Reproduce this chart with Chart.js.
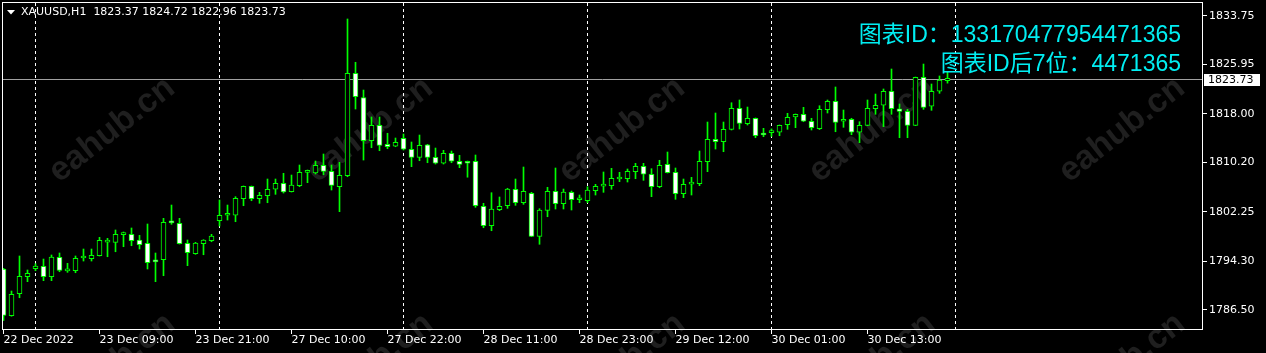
<!DOCTYPE html>
<html><head><meta charset="utf-8">
<script src="https://cdn.jsdelivr.net/npm/chart.js@4/dist/chart.umd.min.js"></script>
<style>html,body{margin:0;padding:0;background:#000;overflow:hidden}</style>
</head><body>
<canvas id="c" width="1266" height="353"></canvas>
<script>
const categories = [
 "22 Dec 20:00","22 Dec 21:00","22 Dec 22:00","22 Dec 23:00",
 "23 Dec 01:00","23 Dec 02:00","23 Dec 03:00","23 Dec 04:00","23 Dec 05:00","23 Dec 06:00","23 Dec 07:00","23 Dec 08:00","23 Dec 09:00","23 Dec 10:00","23 Dec 11:00","23 Dec 12:00","23 Dec 13:00","23 Dec 14:00","23 Dec 15:00","23 Dec 16:00","23 Dec 17:00","23 Dec 18:00","23 Dec 19:00","23 Dec 20:00","23 Dec 21:00","23 Dec 22:00","23 Dec 23:00",
 "27 Dec 01:00","27 Dec 02:00","27 Dec 03:00","27 Dec 04:00","27 Dec 05:00","27 Dec 06:00","27 Dec 07:00","27 Dec 08:00","27 Dec 09:00","27 Dec 10:00","27 Dec 11:00","27 Dec 12:00","27 Dec 13:00","27 Dec 14:00","27 Dec 15:00","27 Dec 16:00","27 Dec 17:00","27 Dec 18:00","27 Dec 19:00","27 Dec 20:00","27 Dec 21:00","27 Dec 22:00","27 Dec 23:00",
 "28 Dec 01:00","28 Dec 02:00","28 Dec 03:00","28 Dec 04:00","28 Dec 05:00","28 Dec 06:00","28 Dec 07:00","28 Dec 08:00","28 Dec 09:00","28 Dec 10:00","28 Dec 11:00","28 Dec 12:00","28 Dec 13:00","28 Dec 14:00","28 Dec 15:00","28 Dec 16:00","28 Dec 17:00","28 Dec 18:00","28 Dec 19:00","28 Dec 20:00","28 Dec 21:00","28 Dec 22:00","28 Dec 23:00",
 "29 Dec 01:00","29 Dec 02:00","29 Dec 03:00","29 Dec 04:00","29 Dec 05:00","29 Dec 06:00","29 Dec 07:00","29 Dec 08:00","29 Dec 09:00","29 Dec 10:00","29 Dec 11:00","29 Dec 12:00","29 Dec 13:00","29 Dec 14:00","29 Dec 15:00","29 Dec 16:00","29 Dec 17:00","29 Dec 18:00","29 Dec 19:00","29 Dec 20:00","29 Dec 21:00","29 Dec 22:00","29 Dec 23:00",
 "30 Dec 01:00","30 Dec 02:00","30 Dec 03:00","30 Dec 04:00","30 Dec 05:00","30 Dec 06:00","30 Dec 07:00","30 Dec 08:00","30 Dec 09:00","30 Dec 10:00","30 Dec 11:00","30 Dec 12:00","30 Dec 13:00","30 Dec 14:00","30 Dec 15:00","30 Dec 16:00","30 Dec 17:00","30 Dec 18:00","30 Dec 19:00","30 Dec 20:00","30 Dec 21:00","30 Dec 22:00","30 Dec 23:00"
];
const opens = [
 1793.09,1785.58,1789.12,1791.85,
 1793.13,1793.52,1791.85,1794.97,1792.80,1792.81,1794.85,1794.74,1795.22,1797.42,1797.38,1798.62,1798.66,1797.75,1797.22,1794.30,1794.58,1800.56,1800.43,1797.22,1795.55,1797.15,1797.63,
 1800.85,1801.72,1801.72,1804.39,1806.38,1804.39,1804.87,1805.90,1806.86,1805.51,1806.48,1808.62,1808.52,1809.75,1808.79,1806.31,1808.08,1824.54,1820.62,1813.71,1816.18,1813.13,1812.81,
 1814.09,1812.33,1811.04,1813.06,1811.04,1810.08,1811.68,1810.40,1810.40,1810.40,1803.16,1800.05,1802.62,1803.26,1805.90,1803.74,1805.25,1798.34,1802.52,1805.57,1803.58,1805.41,1804.22,
 1804.06,1805.67,1806.40,1806.48,1807.56,1807.60,1808.73,1809.59,1808.31,1806.31,1809.91,1808.63,1805.19,1806.72,1806.80,1810.33,1813.93,1813.55,1815.54,1818.91,1816.44,1817.31,1814.68,
 1815.00,1815.06,1816.28,1817.52,1817.95,1816.83,1815.64,1818.69,1820.04,1816.83,1817.15,1815.06,1816.18,1818.85,1819.40,1821.65,1818.85,1818.43,1816.18,1823.90,1819.24,1821.65,1823.37
];
const highs = [
 1793.20,1789.55,1795.18,1792.93,
 1793.94,1794.69,1795.34,1795.66,1794.00,1795.18,1796.30,1796.30,1798.18,1798.02,1799.36,1799.03,1799.68,1798.50,1800.32,1795.66,1801.23,1803.37,1801.23,1797.75,1797.38,1797.80,1798.66,
 1804.18,1803.37,1804.71,1806.43,1806.43,1805.41,1807.55,1807.55,1808.47,1808.19,1809.80,1809.00,1810.44,1811.57,1809.80,1810.24,1833.27,1826.31,1821.85,1817.52,1817.52,1814.90,1814.14,
 1814.78,1813.50,1814.62,1813.13,1812.53,1812.16,1812.05,1811.36,1810.44,1811.41,1803.65,1805.35,1804.66,1806.06,1807.55,1809.48,1805.41,1802.78,1806.22,1809.32,1805.94,1805.62,1804.98,
 1806.31,1806.70,1808.68,1809.27,1808.63,1809.16,1810.07,1810.07,1809.21,1810.56,1811.89,1809.32,1807.55,1807.82,1812.05,1816.71,1818.16,1816.71,1819.81,1820.25,1819.12,1817.36,1815.70,
 1815.60,1816.23,1818.11,1818.00,1819.07,1817.31,1819.33,1820.25,1822.34,1818.64,1817.31,1816.76,1820.25,1821.21,1822.02,1825.23,1819.61,1818.75,1823.94,1826.03,1822.82,1824.11,1824.72
];
const lows = [
 1784.81,1785.50,1788.47,1791.05,
 1792.81,1791.21,1791.21,1792.65,1792.55,1792.49,1794.37,1794.37,1795.18,1795.06,1795.86,1796.67,1796.83,1796.30,1793.09,1791.05,1792.01,1800.27,1797.10,1793.62,1795.45,1795.38,1797.47,
 1799.99,1800.96,1800.69,1803.26,1804.06,1803.65,1803.74,1805.09,1805.30,1805.46,1806.31,1806.96,1808.36,1808.24,1805.78,1802.30,1807.92,1818.80,1810.60,1812.58,1812.10,1812.42,1812.74,
 1812.21,1809.53,1810.49,1810.17,1809.96,1809.96,1810.17,1809.37,1807.84,1803.00,1799.72,1799.24,1802.46,1802.84,1803.32,1803.48,1798.28,1797.06,1801.49,1802.73,1802.73,1802.57,1803.74,
 1803.74,1804.98,1805.41,1805.90,1807.12,1807.07,1807.60,1807.34,1804.71,1806.15,1808.52,1804.29,1804.55,1804.98,1806.48,1808.73,1812.37,1811.94,1815.43,1815.59,1816.23,1814.19,1814.35,
 1814.40,1814.51,1815.54,1815.80,1816.76,1815.43,1815.50,1818.16,1815.15,1815.86,1814.67,1813.39,1816.12,1817.95,1815.96,1817.95,1814.19,1814.19,1816.12,1818.75,1818.59,1821.32,1822.96
];
const closes = [
 1785.61,1789.02,1791.91,1792.40,
 1793.57,1791.85,1795.01,1792.88,1792.90,1794.81,1794.95,1795.29,1797.70,1797.50,1798.66,1798.70,1797.63,1796.99,1794.10,1794.24,1800.59,1800.50,1797.15,1795.71,1797.27,1797.75,1798.39,
 1801.72,1801.80,1804.45,1806.38,1804.39,1804.93,1805.90,1806.86,1805.46,1806.59,1808.63,1808.70,1809.75,1808.79,1806.54,1808.14,1824.54,1820.78,1813.71,1816.18,1812.97,1812.74,1813.45,
 1812.33,1811.04,1812.97,1811.04,1810.08,1811.68,1810.40,1809.91,1810.08,1803.26,1800.05,1802.73,1803.16,1805.94,1803.74,1805.57,1798.34,1802.57,1805.57,1803.58,1805.46,1804.22,1804.30,
 1805.78,1806.38,1806.46,1807.66,1807.64,1808.79,1809.59,1808.31,1806.31,1809.75,1808.56,1805.19,1806.70,1806.78,1810.40,1813.93,1813.54,1815.54,1818.91,1816.50,1817.31,1814.51,1814.62,
 1815.08,1816.18,1817.47,1817.95,1816.83,1815.80,1818.75,1820.04,1816.66,1817.15,1815.06,1816.18,1818.91,1819.40,1821.65,1818.85,1818.43,1816.18,1823.90,1819.07,1821.65,1823.46,1823.73
];
const xTickIndex = [0,12,24,36,48,60,72,84,96,108];
const xTickLabels = ["22 Dec 2022","23 Dec 09:00","23 Dec 21:00","27 Dec 10:00","27 Dec 22:00","28 Dec 11:00","28 Dec 23:00","29 Dec 12:00","30 Dec 01:00","30 Dec 13:00"];
const yTickValues = [1786.50,1794.30,1802.25,1810.20,1818.00,1825.95,1833.75];
const daySeparatorIndex = [4,27,50,73,96,119];
const symbolTitle = "XAUUSD,H1";
const lastQuote = [1823.37,1824.72,1822.96,1823.73];
const idLines = ["图表ID：133170477954471365","图表ID后7位：4471365"];
const watermarkText = "eahub.cn";

const FONT = "'DejaVu Sans', sans-serif";
const GREEN = "#00FF00";

const wickData = categories.map((c,i)=>({x:i, y:[lows[i], highs[i]]}));
const bodyData = categories.map((c,i)=>({x:i, y:[opens[i], closes[i]]}));
const bodyFill = categories.map((c,i)=> closes[i] >= opens[i] ? "#000000" : "#FFFFFF");

const decor = {
  id: 'decor',
  beforeDraw(chart) {
    const ctx = chart.ctx;
    ctx.save();
    ctx.fillStyle = '#000';
    ctx.fillRect(0,0,chart.width,chart.height);
    ctx.fillStyle = '#1F1F1F';
    ctx.font = "bold 34px 'Liberation Sans', sans-serif";
    ctx.textAlign = 'center';
    ctx.textBaseline = 'middle';
    const cx = [112,370,622,872,1122];
    [130, 366].forEach(cy => cx.forEach(x => {
      ctx.save();
      ctx.translate(x, cy);
      ctx.rotate(-38*Math.PI/180);
      ctx.fillText(watermarkText, 0, 0);
      ctx.restore();
    }));
    ctx.restore();
  },
  beforeDatasetsDraw(chart) {
    const ctx = chart.ctx, a = chart.chartArea;
    const xs = chart.scales.x, ys = chart.scales.y;
    ctx.save();
    ctx.strokeStyle = '#FFFFFF';
    ctx.lineWidth = 1;
    ctx.setLineDash([3,3]);
    daySeparatorIndex.forEach(k => {
      const px = Math.floor(xs.getPixelForValue(k)) + 0.5;
      ctx.beginPath(); ctx.moveTo(px, a.top+1); ctx.lineTo(px, a.bottom); ctx.stroke();
    });
    ctx.setLineDash([]);
    const py = Math.floor(ys.getPixelForValue(lastQuote[3])) + 1.5;
    ctx.strokeStyle = '#A0A0A0';
    ctx.beginPath(); ctx.moveTo(a.left, py); ctx.lineTo(a.right, py); ctx.stroke();
    ctx.restore();
  },
  afterDraw(chart) {
    const ctx = chart.ctx, a = chart.chartArea;
    const ys = chart.scales.y;
    ctx.save();
    ctx.strokeStyle = '#FFFFFF';
    ctx.lineWidth = 1;
    ctx.strokeRect(a.left+0.5, a.top+0.5, a.right-a.left-1, a.bottom-a.top-1);
    ctx.fillStyle = '#FFFFFF';
    ctx.beginPath(); ctx.moveTo(7,10); ctx.lineTo(15,10); ctx.lineTo(11,14.5); ctx.closePath(); ctx.fill();
    ctx.font = "11px " + FONT;
    ctx.textAlign = 'left'; ctx.textBaseline = 'middle';
    ctx.fillText(symbolTitle + "  " + lastQuote.map(v=>v.toFixed(2)).join(" "), 21, 12.5);
    ctx.fillStyle = '#00EEF2';
    ctx.font = "23px 'Liberation Sans', 'Noto Sans CJK SC', sans-serif";
    ctx.textAlign = 'right';
    ctx.fillText(idLines[0], 1181, 36);
    ctx.fillText(idLines[1], 1181, 65);
    const py = Math.floor(ys.getPixelForValue(lastQuote[3])) + 1;
    ctx.fillStyle = '#FFFFFF';
    ctx.fillRect(1204, py-5, 56, 12);
    ctx.fillStyle = '#000000';
    ctx.font = "11px " + FONT;
    ctx.textAlign = 'left';
    ctx.fillText(lastQuote[3].toFixed(2), 1208, py+1.5);
    ctx.restore();
  }
};

new Chart(document.getElementById('c'), {
  type: 'bar',
  data: {
    datasets: [
      { label:'body', data: bodyData, backgroundColor: bodyFill, borderColor: GREEN, borderWidth: 1,
        borderSkipped: false, barThickness: 5, minBarLength: 2, grouped: false, order: 0 },
      { label:'wick', data: wickData, backgroundColor: GREEN, borderWidth: 0,
        barThickness: 1, grouped: false, order: 1 }
    ]
  },
  options: {
    responsive: false, animation: false, devicePixelRatio: 1,
    layout: { padding: { left: 2, top: 2, right: 0, bottom: 0 }, autoPadding: false },
    plugins: { legend: { display: false }, tooltip: { enabled: false } },
    scales: {
      x: {
        type: 'linear', position: 'bottom', offset: false,
        min: -0.1875, max: 149.9375,
        afterBuildTicks: s => { s.ticks = xTickIndex.map(v => ({value: v})); },
        afterFit: s => { s.height = 23; s.paddingLeft = 0; s.paddingRight = 0; },
        ticks: { autoSkip: false, maxRotation: 0, align: 'start', padding: 0, color: '#FFFFFF',
                 font: { family: "'DejaVu Sans'", size: 11 },
                 callback: (v, i) => xTickLabels[i] },
        grid: { display: true, drawOnChartArea: false, drawTicks: true, tickLength: 4, color: '#FFFFFF', offset: false },
        border: { display: false }
      },
      y: {
        type: 'linear', position: 'right',
        min: 1783.285, max: 1836.0,
        afterBuildTicks: s => { s.ticks = yTickValues.map(v => ({value: v})); },
        afterFit: s => { s.width = 63; s.paddingTop = 0; s.paddingBottom = 0; },
        ticks: { padding: 2, color: '#FFFFFF', font: { family: "'DejaVu Sans'", size: 11 },
                 callback: v => Number(v).toFixed(2) },
        grid: { display: true, drawOnChartArea: false, drawTicks: true, tickLength: 4, color: '#FFFFFF' },
        border: { display: false }
      }
    }
  },
  plugins: [decor]
});
</script>
</body></html>
